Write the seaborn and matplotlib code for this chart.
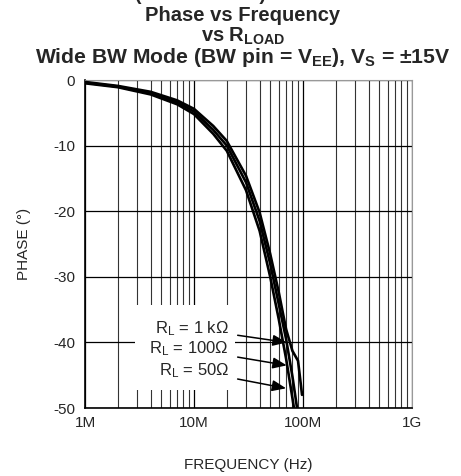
import matplotlib
matplotlib.use("Agg")
import matplotlib.pyplot as plt
import matplotlib.ticker as mticker
from matplotlib.patches import Rectangle
import numpy as np
import pandas as pd
import seaborn as sns

# Data (frequency in Hz, phase in degrees)
freq_50 = [1e6, 2e6, 4e6, 7e6, 10e6, 15e6, 20e6, 30e6, 40e6, 50e6, 60e6, 70e6, 80e6, 90e6]
phase_50 = [-0.5, -1.1, -2.2, -3.7, -5.2, -8.2, -10.8, -16.8, -23.0, -30.0, -36.5, -42.5, -48.5, -54.0]

freq_100 = [1e6, 2e6, 4e6, 7e6, 10e6, 15e6, 20e6, 30e6, 40e6, 50e6, 60e6, 70e6, 80e6, 90e6]
phase_100 = [-0.4, -1.0, -2.0, -3.4, -4.8, -7.6, -10.0, -15.6, -21.5, -28.0, -34.2, -39.5, -45.2, -51.0]

freq_1k = [1e6, 2e6, 4e6, 7e6, 10e6, 15e6, 20e6, 30e6, 40e6, 50e6, 60e6, 70e6, 80e6, 90e6, 98e6]
phase_1k = [-0.3, -0.9, -1.8, -3.1, -4.4, -7.0, -9.3, -14.6, -20.2, -26.5, -32.4, -38.0, -41.3, -42.8, -48.0]

x_ticks = [1e6, 1e7, 1e8, 1e9]
x_tick_labels = ["1M", "10M", "100M", "1G"]
y_ticks = [0, -10, -20, -30, -40, -50]

# label text, text anchor (freq, phase), arrow tip (freq, phase)
labels = [r"R$_\mathrm{L}$ = 1 k$\Omega$", r"R$_\mathrm{L}$ = 100$\Omega$", r"R$_\mathrm{L}$ = 50$\Omega$"]
label_pos = [(20.9e6, -37.9), (20.9e6, -41.0), (20.9e6, -44.3)]
arrow_tip = [(71e6, -40.0), (71e6, -43.5), (70e6, -47.0)]

sns.set_style("white")
plt.rcParams["font.family"] = ["Liberation Sans", "DejaVu Sans"]
plt.rcParams["axes.unicode_minus"] = False
plt.rcParams["mathtext.fontset"] = "custom"
plt.rcParams["mathtext.rm"] = "Liberation Sans"
plt.rcParams["mathtext.it"] = "Liberation Sans:italic"
plt.rcParams["mathtext.bf"] = "Liberation Sans:bold"

fig = plt.figure(figsize=(4.61, 4.76), dpi=100)
ax = fig.add_axes([85 / 461, 1 - 408 / 476, 327 / 461, 328 / 476])

for f, p in [(freq_50, phase_50), (freq_100, phase_100), (freq_1k, phase_1k)]:
    sns.lineplot(x=f, y=p, ax=ax, color="black", linewidth=1.9, zorder=4)

ax.set_xscale("log")
ax.set_xlim(1e6, 1e9)
ax.set_ylim(-50, 0)
ax.set_xticks(x_ticks)
ax.set_xticklabels(x_tick_labels)
ax.set_yticks(y_ticks)
ax.xaxis.set_minor_locator(mticker.LogLocator(base=10, subs=np.arange(2, 10)))
ax.xaxis.set_minor_formatter(mticker.NullFormatter())
ax.grid(True, which="major", color="black", linewidth=0.9)
ax.grid(True, which="minor", axis="x", color="#333333", linewidth=0.8)
ax.tick_params(axis="both", which="both", length=0, labelsize=11)
ax.tick_params(axis="x", pad=6)
ax.tick_params(axis="y", pad=7)
for s in ax.spines.values():
    s.set_color("black")
    s.set_linewidth(1.2)
ax.spines["top"].set_color("#999999")
ax.spines["top"].set_linewidth(0.8)
ax.spines["right"].set_color("#999999")
ax.spines["right"].set_linewidth(0.8)

ax.set_xlabel("FREQUENCY (Hz)", fontsize=11, labelpad=20)
ax.set_ylabel("PHASE (°)", fontsize=11, labelpad=16)

# white block behind the labels
ax.add_patch(Rectangle((0.153, 0.055), 0.306, 0.259, transform=ax.transAxes,
                       facecolor="white", edgecolor="none", zorder=2.5))

for txt, tp, ap in zip(labels, label_pos, arrow_tip):
    ax.annotate(txt, xy=ap, xytext=tp, fontsize=12, ha="right", va="center", zorder=5,
                arrowprops=dict(arrowstyle="-|>,head_length=0.7,head_width=0.28",
                                color="black", lw=1.1, shrinkA=4, shrinkB=0))

fig.text(200 / 461, 1 + 0.5 / 476, "(  Continued  )", fontsize=14, fontweight="bold", ha="center", va="baseline")
fig.text(243 / 461, 1 - 21 / 476, "Phase vs Frequency", fontsize=14.5, fontweight="bold", ha="center", va="baseline")
fig.text(243 / 461, 1 - 42 / 476, r"vs R$_\mathbf{LOAD}$", fontsize=14.5, fontweight="bold", ha="center", va="baseline")
fig.text(243 / 461, 1 - 63 / 476, r"Wide BW Mode (BW pin = V$_\mathbf{EE}$), V$_\mathbf{S}$ = ±15V",
         fontsize=15.2, fontweight="bold", ha="center", va="baseline")

fig.savefig("out.png", dpi=100)
